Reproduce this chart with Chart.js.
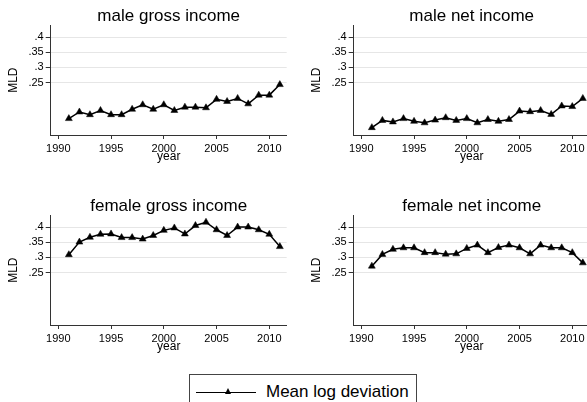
<!DOCTYPE html>
<html>
<head>
<meta charset="utf-8">
<script src="https://cdn.jsdelivr.net/npm/chart.js@4"></script>
<style>
  html, body { margin: 0; padding: 0; background: #fff; }
  body { width: 587px; height: 402px; overflow: hidden; position: relative; font-family: 'Liberation Sans', Arial, sans-serif; }
  .panel { position: absolute; width: 337px; height: 180px; }
  .legend { position: absolute; left: 189px; top: 374px; width: 228px; height: 40px; border: 1px solid #444; box-sizing: border-box; background: #fff; }
  .legend .line { position: absolute; left: 6px; top: 16.5px; width: 60px; height: 1.5px; background: #000; }
  .legend .tri { position: absolute; left: 34.5px; top: 13px; width: 0; height: 0; border-left: 3.5px solid transparent; border-right: 3.5px solid transparent; border-bottom: 6px solid #000; }
  .legend .txt { position: absolute; left: 76px; top: 7px; font-size: 17px; line-height: 20px; color: #000; white-space: nowrap; }
</style>
</head>
<body>
<div class="panel" style="left:0px;top:0px"><canvas id="c1" width="337" height="180"></canvas></div>
<div class="panel" style="left:303.3px;top:0px"><canvas id="c2" width="337" height="180"></canvas></div>
<div class="panel" style="left:0px;top:189.5px"><canvas id="c3" width="337" height="180"></canvas></div>
<div class="panel" style="left:303.3px;top:189.5px"><canvas id="c4" width="337" height="180"></canvas></div>
<div class="legend"><div class="line"></div><div class="tri"></div><div class="txt">Mean log deviation</div></div>
<script>
// Daten
const years = [1991, 1992, 1993, 1994, 1995, 1996, 1997, 1998, 1999, 2000, 2001,
               2002, 2003, 2004, 2005, 2006, 2007, 2008, 2009, 2010, 2011];
const maleGross = [0.130, 0.152, 0.143, 0.157, 0.143, 0.143, 0.161, 0.176, 0.161, 0.176, 0.157,
                   0.168, 0.168, 0.166, 0.194, 0.187, 0.197, 0.179, 0.208, 0.208, 0.243];
const maleNet = [0.100, 0.124, 0.119, 0.130, 0.121, 0.116, 0.125, 0.133, 0.124, 0.130, 0.116,
                 0.127, 0.121, 0.127, 0.155, 0.153, 0.157, 0.144, 0.172, 0.170, 0.197];
const femaleGross = [0.309, 0.351, 0.367, 0.377, 0.378, 0.366, 0.366, 0.361, 0.373, 0.390, 0.398,
                     0.378, 0.406, 0.417, 0.392, 0.373, 0.401, 0.401, 0.392, 0.377, 0.336];
const femaleNet = [0.271, 0.310, 0.327, 0.332, 0.332, 0.316, 0.316, 0.311, 0.312, 0.330, 0.341,
                   0.316, 0.333, 0.341, 0.332, 0.312, 0.341, 0.332, 0.332, 0.316, 0.282];
const yTicks = [0.25, 0.3, 0.35, 0.4];
const xTicks = [1990, 1995, 2000, 2005, 2010];
const seriesLabel = 'Mean log deviation';

const FONTE = "'Liberation Sans', Arial, sans-serif";
Chart.defaults.font.family = FONTE;
Chart.defaults.color = '#000';

// titulo centrado sobre a area do grafico (como no Stata)
const tituloPainel = {
  id: 'tituloPainel',
  afterDraw(chart, args, opts) {
    const { ctx, chartArea } = chart;
    ctx.save();
    ctx.font = '17px ' + FONTE;
    ctx.fillStyle = '#000';
    ctx.textAlign = 'center';
    ctx.textBaseline = 'alphabetic';
    ctx.fillText(opts.text, (chartArea.left + chartArea.right) / 2, 20.7);
    ctx.restore();
  }
};

function criarPainel(id, titulo, valores) {
  const ctx = document.getElementById(id).getContext('2d');
  return new Chart(ctx, {
    type: 'line',
    data: {
      datasets: [{
        label: seriesLabel,
        data: valores.map((v, i) => ({ x: years[i], y: v })),
        borderColor: '#000',
        backgroundColor: '#000',
        borderWidth: 1.5,
        pointStyle: 'triangle',
        pointRadius: 4,
        pointBorderWidth: 0.5,
        tension: 0
      }]
    },
    plugins: [tituloPainel],
    options: {
      responsive: false,
      animation: false,
      layout: { padding: { left: 0, right: 50.3, top: 25.4, bottom: 0 } },
      plugins: {
        legend: { display: false },
        tooltip: { enabled: false },
        title: { display: false },
        tituloPainel: { text: titulo }
      },
      scales: {
        x: {
          type: 'linear',
          min: 1989.28,
          max: 2011.65,
          afterBuildTicks: function (scale) {
            scale.ticks = xTicks.map(v => ({ value: v }));
          },
          afterFit: function (scale) {
            scale.height = 45;
          },
          ticks: {
            color: '#000',
            font: { size: 11 },
            padding: 3,
            maxRotation: 0,
            autoSkip: false,
            callback: v => String(v)
          },
          grid: { drawOnChartArea: false, drawTicks: true, tickLength: 4, tickColor: '#333' },
          border: { display: true, color: '#333', width: 1 },
          title: { display: true, text: 'year', color: '#000', font: { size: 12 }, padding: { top: 0, bottom: 16 } }
        },
        y: {
          type: 'linear',
          min: 0.0755,
          max: 0.4397,
          afterBuildTicks: function (scale) {
            scale.ticks = yTicks.map(v => ({ value: v }));
          },
          afterFit: function (scale) {
            scale.width = 50.7;
          },
          ticks: {
            color: '#000',
            font: { size: 11 },
            padding: 2,
            autoSkip: false,
            callback: v => String(v).replace(/^0/, '')
          },
          grid: { color: '#e6e6e6', lineWidth: 1, drawTicks: true, tickLength: 5, tickColor: '#333' },
          border: { display: true, color: '#333', width: 1 },
          title: { display: true, text: 'MLD', color: '#000', font: { size: 12 }, padding: { top: 6, bottom: 0 } }
        }
      }
    }
  });
}

criarPainel('c1', 'male gross income', maleGross);
criarPainel('c2', 'male net income', maleNet);
criarPainel('c3', 'female gross income', femaleGross);
criarPainel('c4', 'female net income', femaleNet);
</script>
</body>
</html>
